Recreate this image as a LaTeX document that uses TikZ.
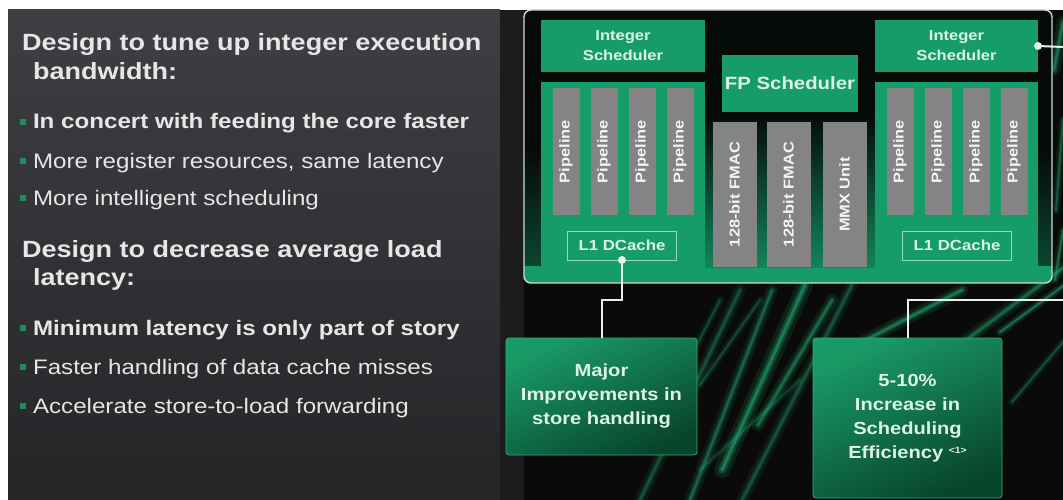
\documentclass[tikz,border=0pt]{standalone}
\usepackage{fontspec}
\setmainfont{Liberation Sans}[FakeStretch=1.15]
\usetikzlibrary{shadings}

\definecolor{coregreen}{HTML}{169C69}
\definecolor{plategreen}{HTML}{10885A}
\definecolor{bargray}{HTML}{858385}
\definecolor{labeltext}{HTML}{DDF3E7}
\definecolor{slidetext}{HTML}{E6E6E6}
\definecolor{bulletgreen}{HTML}{1E8C5E}
\definecolor{wire}{HTML}{E9F1ED}
\definecolor{framegray}{HTML}{CFD9D4}
\definecolor{cacheline}{HTML}{8FDCB8}
\definecolor{panelgraytop}{HTML}{3D3F43}
\definecolor{panelgraybot}{HTML}{242527}
\definecolor{gutter}{HTML}{1C1C1E}
\definecolor{fiber}{HTML}{26C884}
\definecolor{boxtop}{HTML}{1A9A67}
\definecolor{boxbot}{HTML}{08452D}
\definecolor{boxedge}{HTML}{2DB07A}
\definecolor{coreinside}{HTML}{060B09}

\newcommand{\fsz}[2]{\fontsize{#1pt}{#2pt}\selectfont}

\begin{document}
\begin{tikzpicture}[x=1pt,y=-1pt,
  every node/.style={inner sep=0pt, outer sep=0pt},
  slidehead/.style={anchor=base west, text=slidetext, font=\fsz{23.5}{28}\bfseries},
  slideitem/.style={anchor=base west, text=slidetext, font=\fsz{21}{25}},
  slideitembold/.style={anchor=base west, text=slidetext, font=\fsz{21}{25}\bfseries},
  bulletsq/.style={rectangle, fill=bulletgreen, minimum size=6pt},
  greenblock/.style={rectangle, fill=coregreen, anchor=north west, text=labeltext,
    align=center, font=\fsz{14.4}{20}\bfseries},
  unitbar/.style={rectangle, fill=bargray, rotate=90, text=white!92!gray,
    font=\fsz{14.3}{16}\bfseries},
  pipebar/.style={unitbar, minimum width=127pt, minimum height=27pt},
  fpbar/.style={unitbar, minimum width=145pt, minimum height=44pt},
  cachebox/.style={rectangle, draw=cacheline, line width=1pt, text=labeltext,
    minimum width=109pt, minimum height=29pt, font=\fsz{14.6}{16}\bfseries},
  wiredot/.style={circle, fill=wire, minimum size=8pt},
  conn/.style={draw=wire, line width=2pt},
  resultbox/.style={rectangle, anchor=north west, rounded corners=3pt,
    draw=boxedge, line width=0.8pt, top color=boxtop, bottom color=boxbot,
    shading angle=25, text=labeltext, align=center, font=\fsz{17.5}{24}\bfseries},
  streak/.style={draw=fiber, line cap=round}
]
\useasboundingbox (0,0) rectangle (1063,500);

% page and backgrounds
\fill[white] (0,0) rectangle (1063,500);
\fill[top color=panelgraytop, bottom color=panelgraybot] (8,10) rectangle (500,500);
\fill[gutter] (500,10) rectangle (524,500);
\fill[black!96] (524,10) rectangle (1063,500);

% glowing fibres behind the diagram
\foreach \xa/\ya/\xb/\yb/\op/\w in {
  640/500/740/290/.30/3, 690/500/772/290/.38/3, 722/470/805/285/.50/4,
  758/425/832/300/.42/3, 700/385/760/300/.26/2, 652/432/720/300/.26/2,
  742/500/852/285/.30/3, 862/342/962/290/.48/3, 950/352/1063/268/.40/3,
  1000/332/1063/286/.45/2, 1012/402/1063/342/.28/2, 800/380/700/470/.20/2,
  1054/70/1063/22/.45/3, 1056/210/1063/120/.35/2, 1055/280/1063/230/.4/2} {
  \draw[streak, line width=\w*4pt, opacity=\op*0.25] (\xa,\ya) -- (\xb,\yb);
  \draw[streak, line width=\w*2pt, opacity=\op*0.45] (\xa,\ya) -- (\xb,\yb);
  \draw[streak, line width=\w*0.8pt, opacity=\op*0.8] (\xa,\ya) -- (\xb,\yb);
}

% left column of text
\node[slidehead] (h1a) at (22,51) {Design to tune up integer execution};
\node[slidehead] (h1b) at (33,80) {bandwidth:};
\node[bulletsq] (b1) at (23,122) {};
\node[slideitembold] (t1) at (33,129) {In concert with feeding the core faster};
\node[bulletsq] (b2) at (23,161) {};
\node[slideitem] (t2) at (33,168) {More register resources, same latency};
\node[bulletsq] (b3) at (23,198) {};
\node[slideitem] (t3) at (33,205) {More intelligent scheduling};

\node[slidehead] (h2a) at (22,257) {Design to decrease average load};
\node[slidehead] (h2b) at (33,285) {latency:};
\node[bulletsq] (b4) at (23,328) {};
\node[slideitembold] (t4) at (33,335) {Minimum latency is only part of story};
\node[bulletsq] (b5) at (23,367) {};
\node[slideitem] (t5) at (33,374) {Faster handling of data cache misses};
\node[bulletsq] (b6) at (23,406) {};
\node[slideitem] (t6) at (33,413) {Accelerate store-to-load forwarding};

% core: dark inside, green floor along the bottom
\node[rectangle, anchor=north west, minimum width=528pt, minimum height=273pt,
  rounded corners=7pt, fill=coreinside] (core) at (524,10) {};
\begin{scope}
  \clip[rounded corners=7pt] (core.north west) rectangle (core.south east);
  \fill[top color=coreinside, bottom color=coregreen!45!black] (524,150) rectangle (1052,266);
  \fill[coregreen] (524,266) rectangle (1052,283);
\end{scope}
\node[rectangle, anchor=north west, minimum width=170pt, minimum height=152pt,
  top color=coreinside, bottom color=coregreen!85!black] (fpplate) at (705,115) {};
\draw[framegray, line width=1.4pt, rounded corners=7pt] (core.north west) rectangle (core.south east);

% integer cluster, left
\node[greenblock, minimum width=164pt, minimum height=52pt] (schedL) at (541,20) {Integer\\Scheduler};
\node[greenblock, minimum width=164pt, minimum height=185pt] (regL) at (541,82) {};
\node[pipebar] (pL1) at (566,151.5) {Pipeline};
\node[pipebar] (pL2) at (604,151.5) {Pipeline};
\node[pipebar] (pL3) at (642,151.5) {Pipeline};
\node[pipebar] (pL4) at (680,151.5) {Pipeline};
\node[cachebox] (l1L) at (622,245.5) {L1 DCache};

% floating point cluster
\node[greenblock, minimum width=136pt, minimum height=57pt, font=\fsz{17.7}{20}\bfseries] (fps) at (722,55) {FP Scheduler};
\node[fpbar] (fmac1) at (734.5,194.5) {128-bit FMAC};
\node[fpbar] (fmac2) at (788.5,194.5) {128-bit FMAC};
\node[fpbar] (mmx) at (844.5,194.5) {MMX Unit};

% integer cluster, right
\node[greenblock, minimum width=163pt, minimum height=52pt] (schedR) at (875,20) {Integer\\Scheduler};
\node[greenblock, minimum width=163pt, minimum height=185pt] (regR) at (875,82) {};
\node[pipebar] (pR1) at (900,151.5) {Pipeline};
\node[pipebar] (pR2) at (938,151.5) {Pipeline};
\node[pipebar] (pR3) at (976,151.5) {Pipeline};
\node[pipebar] (pR4) at (1014,151.5) {Pipeline};
\node[cachebox] (l1R) at (957,245.5) {L1 DCache};

% callout boxes
\node[resultbox, minimum width=191pt, minimum height=117pt] (major) at (506,338)
  {Major\\Improvements in\\store handling};
\node[resultbox, minimum width=189pt, minimum height=160pt] (effic) at (813,338)
  {5-10\%\\Increase in\\Scheduling\\Efficiency \raisebox{5pt}{\fsz{9}{9}<1>}};

% connectors
\node[wiredot] (dotL) at (l1L.south) {};
\node[wiredot] (dotR) at (schedR.east) {};
\coordinate (bendL) at (0,300);
\coordinate (edgeA) at (1063,47);
\coordinate (edgeB) at (1063,300);
\draw[conn] (dotL) -- (dotL |- bendL) -| (major.north);
\draw[conn] (dotR) -- (edgeA);
\draw[conn] (edgeB) -| (effic.north);
\end{tikzpicture}
\end{document}
